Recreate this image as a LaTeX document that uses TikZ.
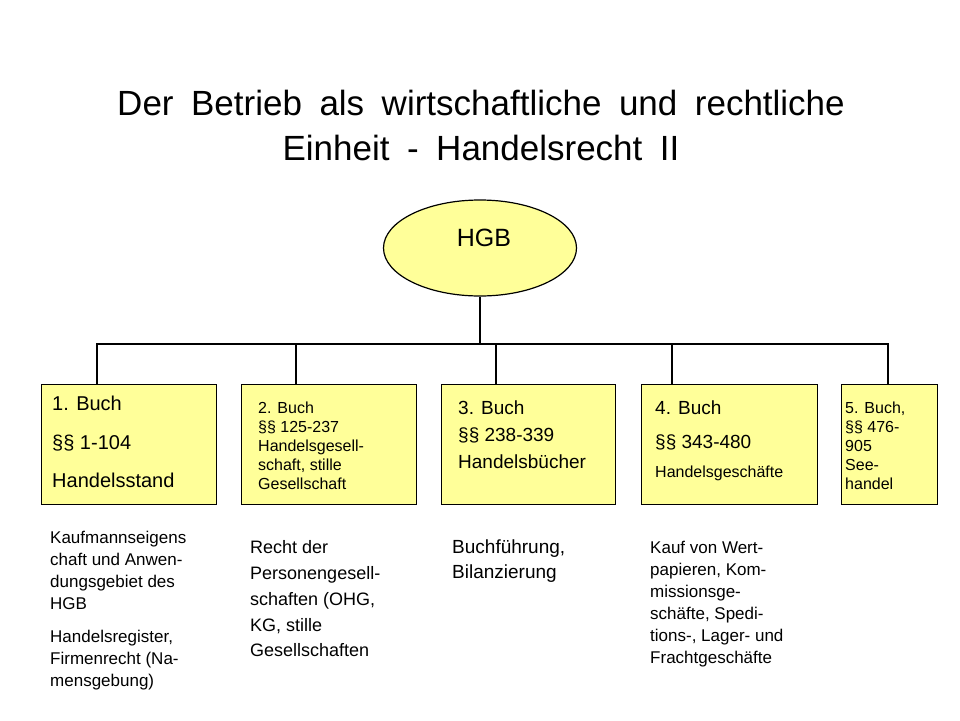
\documentclass[tikz,border=0pt]{standalone}
\usepackage{fontspec}
\setmainfont{Liberation Sans}
\usetikzlibrary{shapes.geometric}
\definecolor{boxfill}{HTML}{FFFF99}
\newcommand\widespaces{\spaceskip=17.5pt plus 0pt minus 0pt\relax}
\begin{document}
\begin{tikzpicture}[x=1pt,y=-1pt,
  bookbox/.style={draw=black, line width=1.2pt, fill=boxfill, anchor=north west, inner sep=0pt, minimum height=120pt},
  txt/.style={anchor=north west, inner sep=0pt, align=left},
  conn/.style={draw=black, line width=1.2pt}]
\useasboundingbox[fill=white] (0,0) rectangle (960,720);

% title
\node[anchor=north, inner sep=0pt, align=center, font={\fontsize{35}{45}\selectfont\widespaces}] (title) at (481,90) {Der Betrieb als wirtschaftliche und rechtliche\\Einheit - Handelsrecht II};

% root
\node[ellipse, draw=black, line width=1.2pt, fill=boxfill, minimum width=193pt, minimum height=96pt, inner sep=0pt] (hgb) at (480,248) {};
\node[inner sep=0pt, font=\fontsize{25}{30}\selectfont] (hgblabel) at (484,238) {HGB};

% boxes
\node[bookbox, minimum width=175pt] (b1) at (41,384) {};
\node[bookbox, minimum width=175pt] (b2) at (241,384) {};
\node[bookbox, minimum width=174pt] (b3) at (441,384) {};
\node[bookbox, minimum width=176pt] (b4) at (641,384) {};
\node[bookbox, minimum width=96pt] (b5) at (841,384) {};

% box texts
\node[txt, font=\fontsize{20}{38.5}\selectfont] (t1) at (52,396) {1. Buch\\§§ 1-104\\Handelsstand};
\node[txt, font=\fontsize{16}{18.8}\selectfont] (t2) at (258,402) {2. Buch\\§§ 125-237\\Handelsgesell-\\schaft, stille\\Gesellschaft};
\node[txt, font=\fontsize{19}{27}\selectfont] (t3) at (458,401) {3. Buch\\§§ 238-339\\Handelsbücher};
\node[txt, font=\fontsize{19}{34}\selectfont] (t4) at (655,401) {4. Buch\\§§ 343-480\\[-5pt]{\fontsize{16}{29}\selectfont Handelsgeschäfte}};
\node[txt, font=\fontsize{16}{19}\selectfont] (t5) at (845,402) {5. Buch,\\§§ 476-\\905\\See-\\handel};

% descriptions
\node[txt, font=\fontsize{17}{22}\selectfont] (d1) at (50,531) {Kaufmannseigens\\chaft und Anwen-\\dungsgebiet des\\HGB\\[11pt]Handelsregister,\\Firmenrecht (Na-\\mensgebung)};
\node[txt, font=\fontsize{18}{25.8}\selectfont] (d2) at (250,540.5) {Recht der\\Personengesell-\\schaften (OHG,\\KG, stille\\Gesellschaften};
\node[txt, font=\fontsize{19}{25}\selectfont] (d3) at (452,540) {Buchführung,\\Bilanzierung};
\node[txt, font=\fontsize{17}{22}\selectfont] (d4) at (650,541) {Kauf von Wert-\\papieren, Kom-\\missionsge-\\schäfte, Spedi-\\tions-, Lager- und\\Frachtgeschäfte};

% connectors
\coordinate (bus) at (480,344);
\coordinate (c1) at (97,384);
\coordinate (c2) at (296,384);
\coordinate (c3) at (496,384);
\coordinate (c4) at (672,384);
\coordinate (c5) at (888,384);
\draw[conn] (hgb.south) -- (bus);
\foreach \i in {1,...,5} \draw[conn] (bus) -| (c\i);
\end{tikzpicture}
\end{document}
